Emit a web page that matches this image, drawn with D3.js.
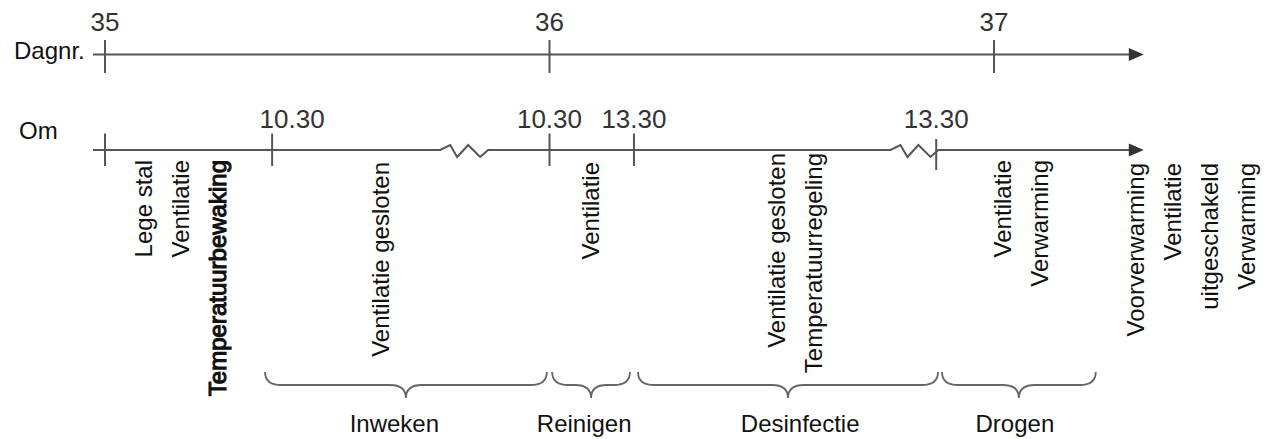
<!DOCTYPE html>
<html>
<head>
<meta charset="utf-8">
<script src="https://cdn.jsdelivr.net/npm/d3@7"></script>
<style>
  html, body { margin: 0; padding: 0; background: #fff; }
  svg { display: block; font-family: "Liberation Sans", Arial, sans-serif; }
</style>
</head>
<body>
<svg id="chart" width="1270" height="439"></svg>
<script>
// ---- data (schematic time in "day number" units) ----
const dayTicks = [35, 36, 37];
const dayTickLabels = ["35", "36", "37"];
const omTicks = [35, 35.376, 36, 36.19, 36.87];
const omTickLabels = ["", "10.30", "10.30", "13.30", "13.30"];
const axisBreaks = [35.808, 36.821];
const axisStart = 34.973;
const axisEnd = 37.337;

const phaseNames = ["Inweken", "Reinigen", "Desinfectie", "Drogen"];
const phaseStart = [35.36, 36.006, 36.199, 36.883];
const phaseEnd = [35.994, 36.181, 36.874, 37.229];
const phaseLabelAt = [35.651, 36.078, 36.564, 37.047];

const noteAt = [35.106, 35.639, 36.111, 36.530, 37.038, 37.337];
const noteLines = [
  ["Lege stal", "Ventilatie", "Temperatuurbewaking"],
  ["Ventilatie gesloten"],
  ["Ventilatie"],
  ["Ventilatie gesloten", "Temperatuurregeling"],
  ["Ventilatie", "Verwarming"],
  ["Voorverwarming", "Ventilatie", "uitgeschakeld", "Verwarming"]
];
const emphasised = ["Temperatuurbewaking"];

// ---- layout ----
const svg = d3.select("#chart");
const x = d3.scaleLinear().domain([35, 37]).range([105, 994]);
const yDay = 54.5, yOm = 150;
const lineColor = "#555", numColor = "#333";
const noteTop = [160, 162, 162, 153, 160, 163];
const noteStep = 37;

function arrow(y) {
  const tip = x(axisEnd);
  svg.append("path")
    .attr("d", `M${tip},${y} L${tip - 15},${y - 6.5} L${tip - 15},${y + 6.5} Z`)
    .attr("fill", "#333");
}

// Day axis
svg.append("line")
  .attr("x1", x(axisStart)).attr("x2", x(axisEnd) - 10)
  .attr("y1", yDay).attr("y2", yDay)
  .attr("stroke", lineColor).attr("stroke-width", 2);
arrow(yDay);
svg.selectAll(".dtick").data(dayTicks).join("line")
  .attr("x1", d => x(d)).attr("x2", d => x(d))
  .attr("y1", yDay - 14.5).attr("y2", yDay + 18.5)
  .attr("stroke", lineColor).attr("stroke-width", 2);
svg.selectAll(".dlab").data(dayTicks).join("text")
  .attr("x", d => x(d)).attr("y", 31)
  .attr("text-anchor", "middle").attr("font-size", 26).attr("fill", numColor)
  .text((d, i) => dayTickLabels[i]);
svg.append("text").attr("x", 14).attr("y", 59).attr("font-size", 24).attr("fill", "#111").text("Dagnr.");

// Om axis with breaks
const pts = [[x(axisStart), 0]];
axisBreaks.forEach(b => {
  const bx = x(b);
  [[-24, 0], [-14, -5], [-7, 7], [4, -5], [16, 7], [24, 0]].forEach(p => pts.push([bx + p[0], p[1]]));
});
pts.push([x(axisEnd) - 10, 0]);
svg.append("path")
  .attr("d", d3.line().x(p => p[0]).y(p => yOm + p[1])(pts))
  .attr("fill", "none").attr("stroke", lineColor).attr("stroke-width", 2)
  .attr("stroke-linejoin", "miter");
arrow(yOm);
svg.selectAll(".otick").data(omTicks).join("line")
  .attr("x1", d => x(d)).attr("x2", d => x(d))
  .attr("y1", (d, i) => i === omTicks.length - 1 ? yOm - 11 : yOm - 16.5)
  .attr("y2", (d, i) => i === omTicks.length - 1 ? yOm + 20 : yOm + 16)
  .attr("stroke", lineColor).attr("stroke-width", 2);
svg.selectAll(".olab").data(omTicks).join("text")
  .attr("x", (d, i) => x(d) + (i === 1 ? 20 : 0)).attr("y", 128)
  .attr("text-anchor", "middle").attr("font-size", 26).attr("fill", numColor)
  .text((d, i) => omTickLabels[i]);
svg.append("text").attr("x", 19).attr("y", 139).attr("font-size", 24).attr("fill", "#111").text("Om");

// Rotated notes
noteLines.forEach((lines, g) => {
  lines.forEach((t, k) => {
    const bx = x(noteAt[g]) + k * noteStep;
    const isEm = emphasised.includes(t);
    svg.append("text")
      .attr("transform", `translate(${bx},${noteTop[g]}) rotate(-90)`)
      .attr("text-anchor", "end").attr("font-size", 24)
      .attr("fill", "#111")
      .attr("stroke", isEm ? "#111" : "none").attr("stroke-width", isEm ? 1.1 : 0)
      .text(t);
  });
});

// Braces
const y0 = 372, y1 = 385, y2 = 398, r = 16;
phaseNames.forEach((name, i) => {
  const a = x(phaseStart[i]), b = x(phaseEnd[i]), m = (a + b) / 2;
  const rr = Math.min(r, (b - a) / 4);
  const d = `M${a},${y0} Q${a},${y1} ${a + rr},${y1} L${m - rr},${y1} Q${m},${y1} ${m},${y2} ` +
            `Q${m},${y1} ${m + rr},${y1} L${b - rr},${y1} Q${b},${y1} ${b},${y0}`;
  svg.append("path").attr("d", d).attr("fill", "none")
    .attr("stroke", "#666").attr("stroke-width", 1.8);
});
svg.selectAll(".plab").data(phaseNames).join("text")
  .attr("x", (d, i) => x(phaseLabelAt[i])).attr("y", 432)
  .attr("text-anchor", "middle").attr("font-size", 24).attr("fill", "#111")
  .text(d => d);
</script>
</body>
</html>
